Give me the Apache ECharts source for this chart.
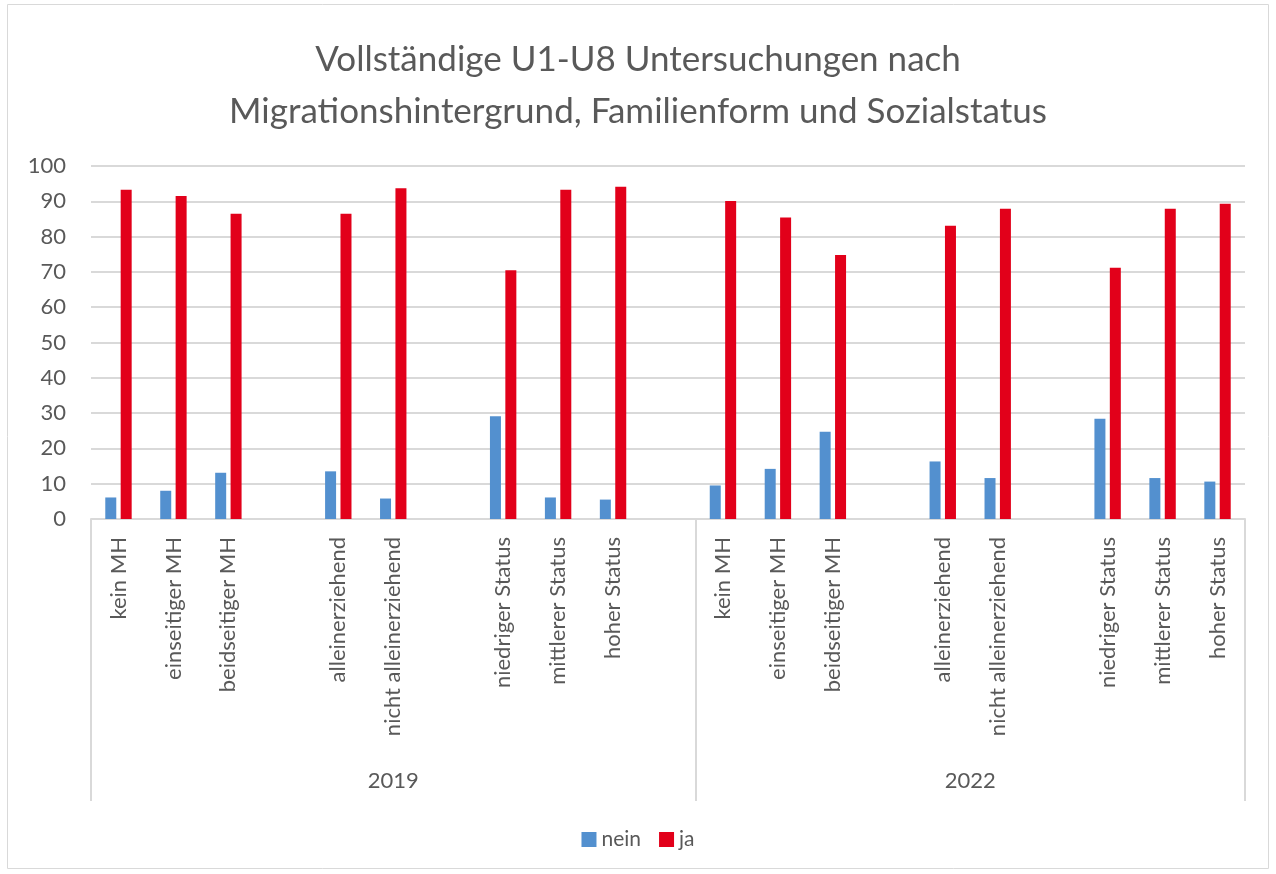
<!DOCTYPE html>
<html>
<head>
<meta charset="utf-8">
<script src="https://cdn.jsdelivr.net/npm/echarts@6/dist/echarts.min.js"></script>
<style>
  html, body { margin: 0; padding: 0; background: #fff; }
  #chart { width: 1276px; height: 874px; }
</style>
</head>
<body>
<div id="chart"></div>
<script>
// Unterkategorien je Jahr ('' = Lücke zwischen den Gruppen)
const subCats = ['kein MH', 'einseitiger MH', 'beidseitiger MH', '', 'alleinerziehend', 'nicht alleinerziehend', '', 'niedriger Status', 'mittlerer Status', 'hoher Status'];
const years = ['2019', '2022'];

const nein2019 = [6.1, 8.0, 13.1, null, 13.5, 5.8, null, 29.1, 6.1, 5.5];
const ja2019 = [93.3, 91.5, 86.5, null, 86.5, 93.7, null, 70.5, 93.3, 94.1];
const nein2022 = [9.5, 14.2, 24.7, null, 16.3, 11.6, null, 28.4, 11.6, 10.6];
const ja2022 = [90.1, 85.4, 74.8, null, 83.1, 87.9, null, 71.2, 87.9, 89.3];

const yTicks = [0, 10, 20, 30, 40, 50, 60, 70, 80, 90, 100];

// Kategorien flach zusammensetzen, mit einer Lücke zwischen 2019 und 2022
const categories = [...subCats, '', ...subCats];
const nein = [...nein2019, null, ...nein2022];
const ja = [...ja2019, null, ...ja2022];

// Gruppengrenzen und -mitten (in Kategorie-Einheiten)
const groupEdges = [0, subCats.length + 1, categories.length];
const groupCenters = [(groupEdges[0] + groupEdges[1]) / 2, (groupEdges[1] + groupEdges[2]) / 2];

const textColor = '#595959';
const lineColor = '#d9d9d9';
const font = 'Lato, "Open Sans", sans-serif';

const chart = echarts.init(document.getElementById('chart'));

chart.setOption({
  animation: false,
  textStyle: { fontFamily: font },
  title: {
    text: 'Vollständige U1-U8 Untersuchungen nach\nMigrationshintergrund, Familienform und Sozialstatus',
    left: 'center',
    top: 29,
    textStyle: {
      color: textColor,
      fontSize: 35,
      fontWeight: 'normal',
      fontFamily: font,
      lineHeight: 52
    }
  },
  legend: {
    data: ['nein', 'ja'],
    top: 824,
    left: 'center',
    icon: 'rect',
    itemWidth: 15,
    itemHeight: 15,
    itemGap: 18,
    textStyle: { color: textColor, fontSize: 21, fontFamily: font }
  },
  graphic: [{
    type: 'rect',
    shape: { x: 7.5, y: 4.5, width: 1261, height: 864 },
    style: { fill: 'none', stroke: lineColor, lineWidth: 1 }
  }],
  grid: { left: 91, right: 31, top: 166, bottom: 355 },
  xAxis: [{
    type: 'category',
    data: categories,
    axisLine: { lineStyle: { color: lineColor, width: 2 } },
    axisTick: { show: false },
    axisLabel: {
      interval: 0,
      rotate: 90,
      margin: 18,
      color: textColor,
      fontSize: 22,
      fontFamily: font
    }
  }, {
    type: 'value',
    position: 'bottom',
    min: 0,
    max: categories.length,
    axisLine: { show: false },
    splitLine: { show: false },
    axisTick: {
      show: true,
      customValues: groupEdges,
      length: 282,
      lineStyle: { color: lineColor, width: 2 }
    },
    axisLabel: {
      customValues: groupCenters,
      formatter: v => (v < groupEdges[1] ? years[0] : years[1]),
      margin: 251,
      color: textColor,
      fontSize: 22,
      fontFamily: font
    }
  }],
  yAxis: {
    type: 'value',
    min: 0,
    max: 100,
    interval: 10,
    axisLine: { show: false },
    axisTick: { show: false },
    splitLine: { lineStyle: { color: lineColor, width: 2 } },
    axisLabel: {
      margin: 25,
      color: textColor,
      fontSize: 22,
      fontFamily: font,
      formatter: v => (yTicks.includes(v) ? String(v) : '')
    }
  },
  series: [{
    name: 'nein',
    type: 'bar',
    data: nein,
    barWidth: 11,
    barGap: '40%',
    itemStyle: { color: '#5390cf' }
  }, {
    name: 'ja',
    type: 'bar',
    data: ja,
    barWidth: 11,
    barGap: '40%',
    itemStyle: { color: '#e2001a' }
  }]
});
</script>
</body>
</html>
